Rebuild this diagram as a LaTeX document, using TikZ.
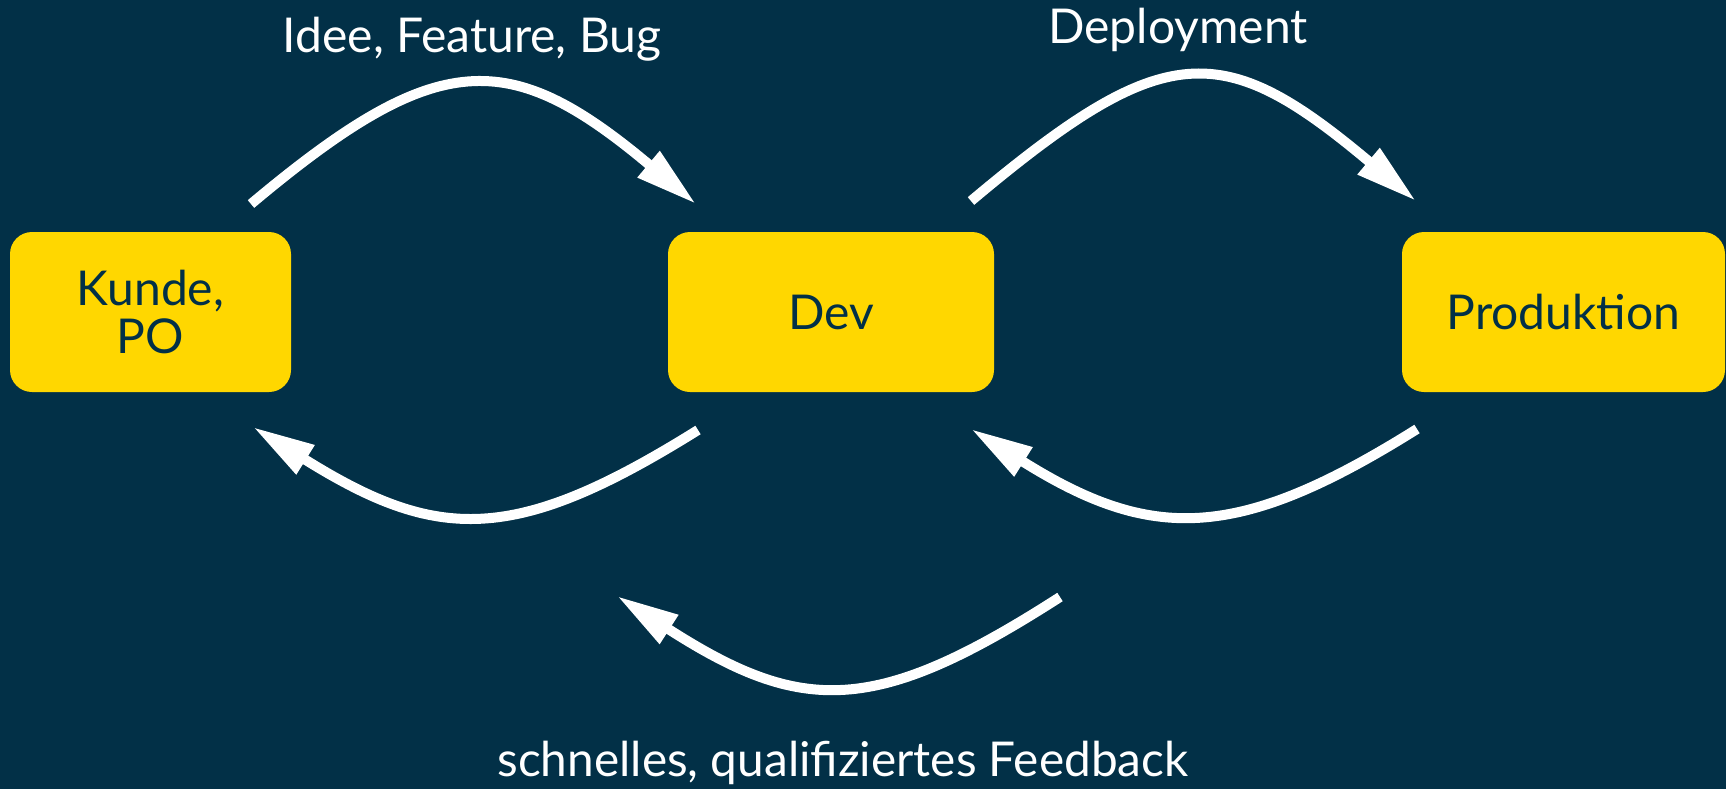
\documentclass[tikz,border=0pt]{standalone}
\usepackage{fontspec}
\setmainfont{Lato}
\usetikzlibrary{arrows.meta}
\definecolor{bg}{HTML}{023047}
\definecolor{gold}{HTML}{FFD700}
\begin{document}
\begin{tikzpicture}[x=0.5pt,y=-0.5pt,
  box/.style={fill=gold, rounded corners=11pt, minimum width=#1, minimum height=80pt,
    text=bg, font=\fontsize{24}{24}\selectfont, align=center, inner sep=0pt},
  lbl/.style={text=white, font=\fontsize{24}{24}\selectfont, anchor=base, inner sep=0pt},
  arr/.style={draw=white, line width=5pt, -{Triangle[length=31pt,width=16pt]}}]
  \fill[bg] (0,0) rectangle (1726,789);
  \useasboundingbox (0,0) rectangle (1726,789);

  \node[box=140.5pt] (kunde) at (150.5,312) {Kunde,\\PO};
  \node[box=163pt] (dev) at (831,312) {Dev};
  \node[box=161.5pt] (prod) at (1563.5,312) {Produktion};

  \coordinate (a1s) at (251,204);
  \coordinate (a1e) at (696,204);
  \coordinate (a2s) at (971,201);
  \coordinate (a2e) at (1416,201);
  \coordinate (a3s) at (698,430);
  \coordinate (a3e) at (253,427);
  \coordinate (a4s) at (1417,429);
  \coordinate (a4e) at (971,429);
  \coordinate (a5s) at (1060,597);
  \coordinate (a5e) at (617,596);

  \draw[arr] (a1s) .. controls +(187,-157) and +(-187,-157) .. (a1e);
  \draw[arr] (a2s) .. controls +(194,-163) and +(-194,-163) .. (a2e);
  \draw[arr] (a3s) .. controls +(-184,115) and +(184,115) .. (a3e);
  \draw[arr] (a4s) .. controls +(-180,113) and +(180,113) .. (a4e);
  \draw[arr] (a5s) .. controls +(-185,119) and +(185,119) .. (a5e);

  \node[lbl] (l1) at (472,52) {Idee, Feature, Bug};
  \node[lbl] (l2) at (1178,43) {Deployment};
  \node[lbl] (l3) at (843,776) {\resizebox{345.5pt}{\height}{schnelles, qualifiziertes Feedback}};
\end{tikzpicture}
\end{document}
